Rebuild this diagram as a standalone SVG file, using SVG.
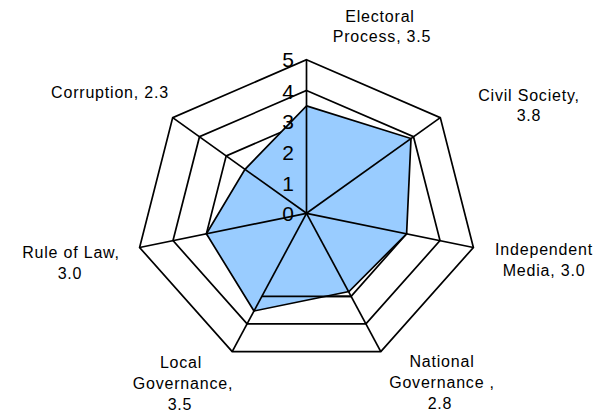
<svg xmlns="http://www.w3.org/2000/svg" width="602" height="414" viewBox="0 0 602 414">
<style>
.ring{fill:none;stroke:#000;stroke-width:1.7;stroke-linejoin:miter}
.ax{stroke:#000;stroke-width:1.7;fill:none}
.data{fill:#99CCFF;stroke:none}
.dline{fill:none;stroke:#000;stroke-width:1.7;stroke-linejoin:miter}
.lbl{font-family:"Liberation Sans",Arial,sans-serif;font-size:16px;letter-spacing:0.8px;fill:#000;text-anchor:middle}
.scale{font-family:"Liberation Sans",Arial,sans-serif;font-size:21px;fill:#000;text-anchor:end}
</style>
<rect width="602" height="414" fill="#fff"/>
<g id="grid">
<polygon class="ring" points="306.5,59.8 440.3,117.6 473.4,247.5 380.8,351.6 232.2,351.6 139.6,247.5 172.7,117.6"/>
<polygon class="ring" points="306.5,90.5 413.5,136.7 440,240.6 365.9,323.9 247.1,323.9 173,240.6 199.5,136.7"/>
<polygon class="ring" points="306.5,121.2 386.8,155.9 406.6,233.8 351.1,296.3 261.9,296.3 206.4,233.8 226.2,155.9"/>
</g>
<g id="series">
<polygon class="data" points="306.5,105.9 411,138.5 406.6,233.8 349,291.5 254,311 206.4,233.8 245,169.3"/>
<line class="ring" x1="261.9" y1="296.3" x2="351.1" y2="296.3"/>
<polygon class="dline" points="306.5,105.9 411,138.5 406.6,233.8 349,291.5 254,311 206.4,233.8 245,169.3"/>
</g>
<g id="axes">
<line class="ax" x1="306.5" y1="213.3" x2="306.5" y2="59.8"/>
<line class="ax" x1="306.5" y1="213.3" x2="440.3" y2="117.6"/>
<line class="ax" x1="306.5" y1="213.3" x2="473.4" y2="247.5"/>
<line class="ax" x1="306.5" y1="213.3" x2="380.8" y2="351.6"/>
<line class="ax" x1="306.5" y1="213.3" x2="232.2" y2="351.6"/>
<line class="ax" x1="306.5" y1="213.3" x2="139.6" y2="247.5"/>
<line class="ax" x1="306.5" y1="213.3" x2="172.7" y2="117.6"/>
</g>
<g id="scale">
<text class="scale" x="294" y="67">5</text>
<text class="scale" x="294" y="98.5">4</text>
<text class="scale" x="294" y="129">3</text>
<text class="scale" x="294" y="159.5">2</text>
<text class="scale" x="294" y="190.5">1</text>
<text class="scale" x="294" y="221">0</text>
</g>
<g id="label-electoral"><text class="lbl" x="380" y="21.5">Electoral</text><text class="lbl" x="382" y="42">Process, 3.5</text></g>
<g id="label-civil"><text class="lbl" x="529" y="101">Civil Society,</text><text class="lbl" x="529" y="121">3.8</text></g>
<g id="label-media"><text class="lbl" x="544" y="255">Independent</text><text class="lbl" x="544" y="276">Media, 3.0</text></g>
<g id="label-national"><text class="lbl" x="442" y="367">National</text><text class="lbl" x="442" y="388">Governance ,</text><text class="lbl" x="440" y="408.5">2.8</text></g>
<g id="label-local"><text class="lbl" x="181" y="368">Local</text><text class="lbl" x="183" y="388.5">Governance,</text><text class="lbl" x="180" y="409.5">3.5</text></g>
<g id="label-law"><text class="lbl" x="71" y="258">Rule of Law,</text><text class="lbl" x="70" y="279">3.0</text></g>
<g id="label-corruption"><text class="lbl" x="110" y="98">Corruption, 2.3</text></g>
</svg>
